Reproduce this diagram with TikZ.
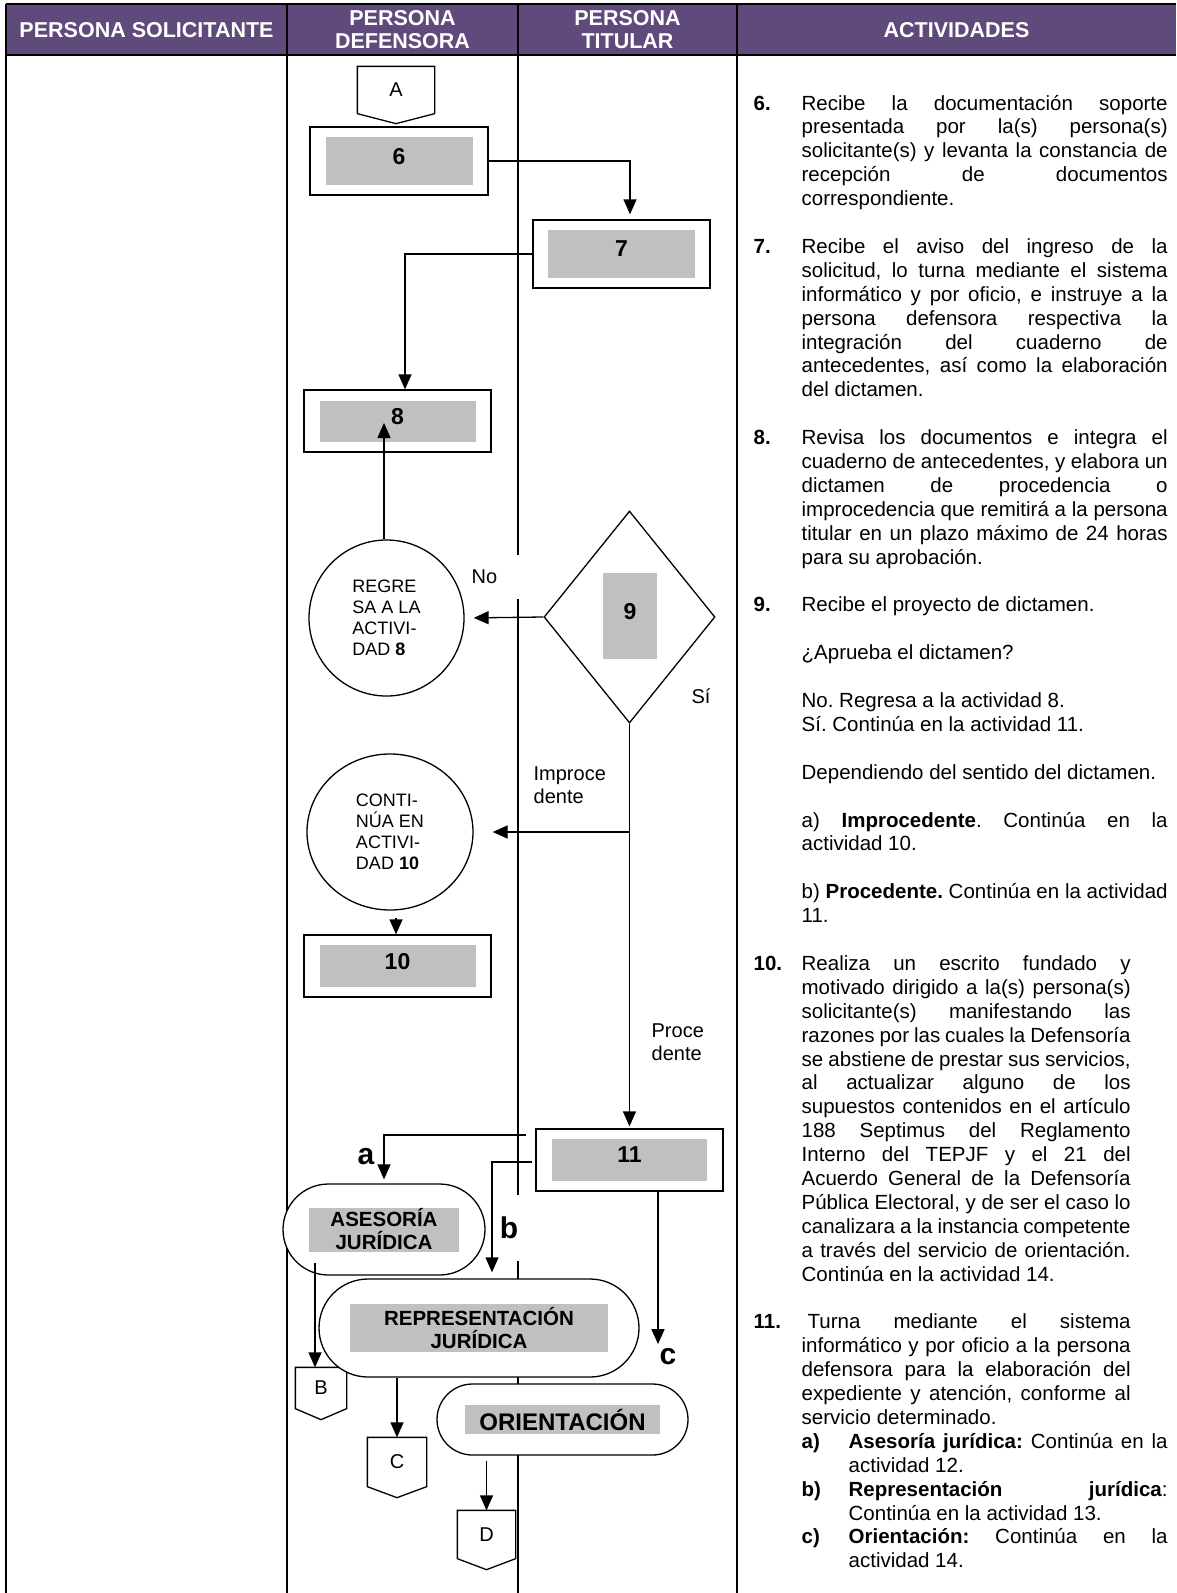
\documentclass[tikz,border=0pt]{standalone}
\usepackage{fontspec}
\setmainfont{Liberation Sans}
\usetikzlibrary{arrows.meta,shapes.geometric,shapes.misc}
\definecolor{morado}{HTML}{604A7B}
\definecolor{gris}{HTML}{C0C0C0}
\newcommand{\numact}[2][48pt]{\noindent\llap{\makebox[#1][l]{\textbf{#2}}}}

\begin{document}
\begin{tikzpicture}[x=1pt,y=-1pt,line width=1.3pt,
  >={Triangle[length=15pt,width=13pt]},
  caja/.style={draw,fill=white,inner sep=0pt},
  numero/.style={fill=gris,inner sep=0pt,text depth=10pt,font=\bfseries\fontsize{23}{25}\selectfont},
  rotulo/.style={fill=gris,inner sep=0pt,align=center,font=\bfseries\fontsize{20.5}{23}\selectfont},
  term/.style={draw,fill=white,rounded rectangle,inner sep=0pt},
  decision/.style={draw,fill=white,diamond,inner sep=0pt},
  conector/.style={inner sep=0pt,font=\fontsize{20}{24}\selectfont},
  circulo/.style={draw,fill=white,ellipse,inner sep=0pt,align=left,font=\fontsize{18}{21}\selectfont},
  etiq/.style={inner sep=0pt,align=left,font=\fontsize{20}{23}\selectfont},
  letra/.style={inner sep=0pt,font=\bfseries\fontsize{30}{30}\selectfont},
  encab/.style={text=white,align=center,font=\bfseries\fontsize{21.5}{23}\selectfont}]
\useasboundingbox (0,0) rectangle (1176,1593);

\fill [morado] (6,4) rectangle (1176,55);
\draw (6,4) -- (1176,4);
\draw (6,55) -- (1176,55);
\draw (6,4) -- (6,1593);
\draw (287,4) -- (287,1593);
\draw (518,4) -- (518,1593);
\draw (737,4) -- (737,1593);

\node [encab] (h1) at (146.5,30) {PERSONA SOLICITANTE};
\node [encab] (h2) at (402.5,30) {PERSONA\\DEFENSORA};
\node [encab] (h3) at (627.5,30) {PERSONA\\TITULAR};
\node [encab] (h4) at (956.5,30) {ACTIVIDADES};

\node [conector, minimum width=76pt, minimum height=46pt] (cA) at (396,90) {A};
\draw (cA.north west) -- (cA.north east) -- (cA.south east) -- ([yshift=-10pt]cA.south) -- (cA.south west) -- cycle;

\node [caja, minimum width=178pt, minimum height=68pt] (b6) at (399,161) {};
\node [numero, minimum width=147pt, minimum height=48pt] (g6) at (b6) {6};
\node [caja, minimum width=177pt, minimum height=68pt] (b7) at (621.5,254) {};
\node [numero, minimum width=147pt, minimum height=48pt] (g7) at (b7) {7};
\node [caja, minimum width=187pt, minimum height=62pt] (b8) at (397.5,421) {};
\node [numero, minimum width=156pt, minimum height=41pt] (g8) at (b8) {8};

\node [decision, minimum width=171pt, minimum height=212pt] (d9) at (629.5,617) {};
\node [numero, minimum width=54pt, minimum height=86pt] (g9) at (630,616) {9};
\node [circulo, minimum width=155pt, minimum height=156pt] (r8) at (386.5,618) {REGRE\\SA A LA\\ACTIVI-\\DAD \textbf{8}};
\node [circulo, minimum width=166pt, minimum height=156pt] (c10) at (390,832) {CONTI-\\NÚA EN\\ACTIVI-\\DAD \textbf{10}};

\node [caja, minimum width=187pt, minimum height=62pt] (b10) at (397.5,966) {};
\node [numero, minimum width=156pt, minimum height=42pt] (g10) at (b10) {10};
\node [caja, minimum width=187pt, minimum height=62pt] (b11) at (629.5,1160) {};
\node [numero, minimum width=155pt, minimum height=42pt] (g11) at (b11) {11};

\node [etiq, fill=white, text width=52pt, inner xsep=4pt, minimum height=44pt, anchor=west] (lno) at (467,577) {No};
\node [etiq, anchor=west] (lsi) at (691,696) {Sí};
\node [etiq, anchor=west] (limp) at (533,785) {Improce\\dente};
\node [etiq, anchor=west] (lpro) at (651,1042) {Proce\\dente};

\node [term, minimum width=202pt, minimum height=91pt] (aj) at (384,1229.5) {};
\node [rotulo, minimum width=150pt, minimum height=44pt] (ga) at (aj) {ASESORÍA\\JURÍDICA};

\node [conector, minimum width=50pt, minimum height=40pt] (cB) at (321,1388) {B};
\draw (cB.north west) -- (cB.north east) -- (cB.south east) -- ([yshift=-11pt]cB.south) -- (cB.south west) -- cycle;

\node [term, minimum width=320pt, minimum height=98pt] (rj) at (479,1328) {};
\node [rotulo, minimum width=258pt, minimum height=48pt] (gr) at (rj) {REPRESENTACIÓN\\JURÍDICA};
\node [term, minimum width=251pt, minimum height=71pt] (oj) at (562.5,1419.5) {};
\node [rotulo, minimum width=195pt, minimum height=29pt, font=\bfseries\fontsize{24}{26}\selectfont] (go) at (oj) {ORIENTACIÓN};

\node [conector, minimum width=58pt, minimum height=48pt] (cC) at (397,1462) {C};
\draw (cC.north west) -- (cC.north east) -- (cC.south east) -- ([yshift=-11pt]cC.south) -- (cC.south west) -- cycle;
\node [conector, minimum width=57pt, minimum height=47pt] (cD) at (486.5,1534.5) {D};
\draw (cD.north west) -- (cD.north east) -- (cD.south east) -- ([yshift=-11pt]cD.south) -- (cD.south west) -- cycle;

\node [letra] (la) at (366,1157) {a};
\node [letra, fill=white, minimum width=26pt, minimum height=66pt] (lb) at (509,1228) {b};
\node [letra] (lc) at (668,1357) {c};

\coordinate (p7) at ([xshift=8.5pt]b7.north);
\coordinate (p8) at ([xshift=7.5pt]b8.north);
\coordinate (t8) at (384,423);
\coordinate (i9) at (d9.south |- c10.east);
\coordinate (t10) at ([xshift=-1.5pt]b10.north);
\coordinate (a11) at ([xshift=-9pt,yshift=25pt]b11.west);
\coordinate (b11b) at ([xshift=-3pt,yshift=-2pt]b11.west);
\coordinate (rjb) at ([xshift=13pt]rj.north);
\coordinate (c11) at ([xshift=28.5pt]b11.south);
\coordinate (tB) at ([xshift=-6pt]cB.north);
\coordinate (sB) at ([yshift=13pt]aj.south -| tB);

\draw [->, shorten >=5pt] (b6.east) -| (p7);
\draw [->] (b7.west) -| (p8);
\draw [->] (r8.north -| t8) -- (t8);
\draw [->, shorten >=9pt] (d9.west) -- (r8.east);
\draw [->, shorten >=2pt] (d9.south) -- (d9.south |- b11.north);
\draw [->, shorten >=19pt] (i9) -- (c10.east);
\draw [->, shorten <=7pt] (c10.south -| t10) -- (t10);
\draw [->, shorten >=4pt] (a11) -| (aj.north);
\draw [->, shorten >=6pt] (b11b) -| (rjb);
\draw [->, shorten >=4pt] (c11) -- (c11 |- lc.north);
\draw [->] (sB) -- (tB);
\draw [->] (rj.south -| cC.north) -- (cC.north);
\draw [->, shorten <=5pt] (oj.south -| cD.north) -- (cD.north);

\node [anchor=base west, inner sep=0pt, text width=414pt, align=justify,
  font=\fontsize{20.5}{23.9}\selectfont] (act) at (753,110) {%
\frenchspacing\tolerance=10000\relax\hyphenpenalty=10000\relax\leftskip=48pt\relax
\numact{6.}Recibe la documentación soporte\linebreak presentada por la(s) persona(s)\linebreak solicitante(s) y levanta la constancia de\linebreak recepción de documentos\linebreak correspondiente.\par\vspace{23.9pt}
\numact{7.}Recibe el aviso del ingreso de la\linebreak solicitud, lo turna mediante el sistema\linebreak informático y por oficio, e instruye a la\linebreak persona defensora respectiva la\linebreak integración del cuaderno de\linebreak antecedentes, así como la elaboración\linebreak del dictamen.\par\vspace{23.9pt}
\numact{8.}Revisa los documentos e integra el\linebreak cuaderno de antecedentes, y elabora un\linebreak dictamen de procedencia o\linebreak improcedencia que remitirá a la persona\linebreak titular en un plazo máximo de 24 horas\linebreak para su aprobación.\par\vspace{23.9pt}
\numact{9.}Recibe el proyecto de dictamen.\par\vspace{23.9pt}
\noindent ¿Aprueba el dictamen?\par\vspace{23.9pt}
\noindent No. Regresa a la actividad 8.\newline Sí. Continúa en la actividad 11.\par\vspace{23.9pt}
\noindent Dependiendo del sentido del dictamen.\par\vspace{23.9pt}
\noindent a) \textbf{Improcedente}. Continúa en la\linebreak actividad 10.\par\vspace{23.9pt}
\noindent b) \textbf{Procedente.} Continúa en la actividad\linebreak 11.\par\vspace{23.9pt}
\rightskip=37pt\relax
\numact{10.}Realiza un escrito fundado y\linebreak motivado dirigido a la(s) persona(s)\linebreak solicitante(s) manifestando las\linebreak razones por las cuales la Defensoría\linebreak se abstiene de prestar sus servicios,\linebreak al actualizar alguno de los\linebreak supuestos contenidos en el artículo\linebreak 188 Septimus del Reglamento\linebreak Interno del TEPJF y el 21 del\linebreak Acuerdo General de la Defensoría\linebreak Pública Electoral, y de ser el caso lo\linebreak canalizara a la instancia competente\linebreak a través del servicio de orientación.\linebreak Continúa en la actividad 14.\par\vspace{23.9pt}
\numact{11.}\hspace*{6pt}Turna mediante el sistema\linebreak informático y por oficio a la persona\linebreak defensora para la elaboración del\linebreak expediente y atención, conforme al\linebreak servicio determinado.\par
\rightskip=0pt\relax\leftskip=95pt\relax
\numact[47pt]{a)}\textbf{Asesoría jurídica:} Continúa en la\linebreak actividad 12.\par
\numact[47pt]{b)}\textbf{Representación jurídica}:\linebreak Continúa en la actividad 13.\par
\numact[47pt]{c)}\textbf{Orientación:} Continúa en la\linebreak actividad 14.\par};
\end{tikzpicture}
\end{document}
